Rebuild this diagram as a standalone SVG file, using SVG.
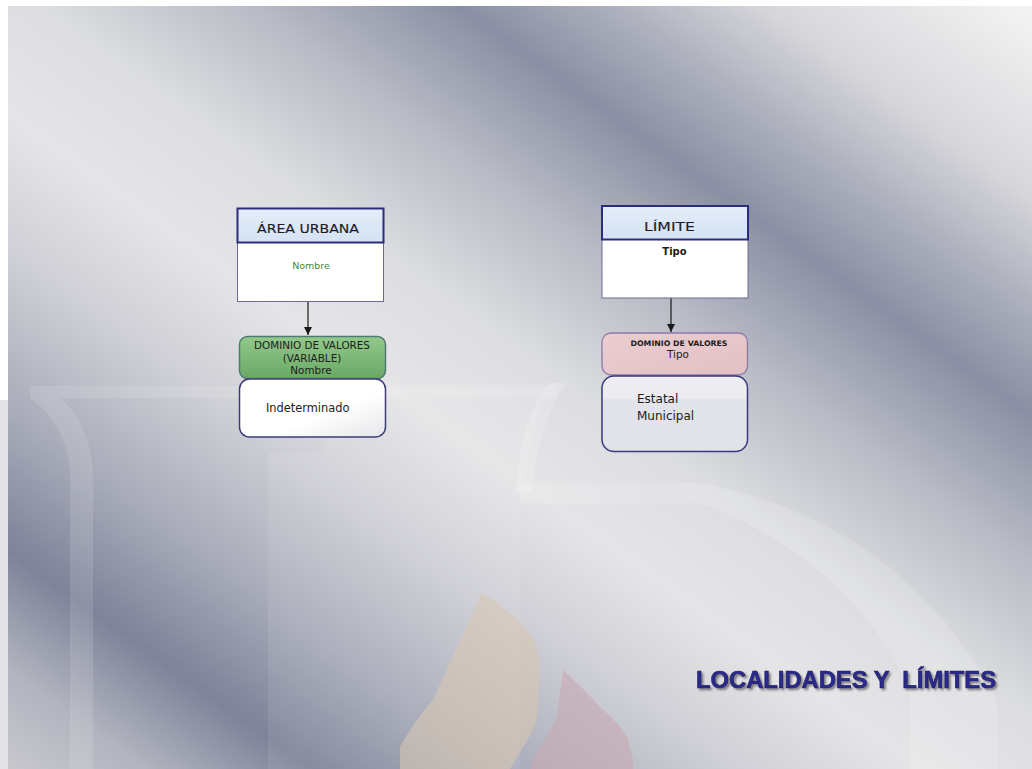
<svg xmlns="http://www.w3.org/2000/svg" width="1032" height="769" viewBox="0 0 1032 769">
  <defs>
    <!-- diagonal silver swoosh behind the slide -->
    <linearGradient id="bgSwoosh" gradientUnits="userSpaceOnUse" x1="0" y1="769" x2="708" y2="-220">
      <stop offset="0" stop-color="#c9c9ce"/>
      <stop offset="0.07" stop-color="#b2b4bf"/>
      <stop offset="0.15" stop-color="#7d8399"/>
      <stop offset="0.24" stop-color="#a7aab8"/>
      <stop offset="0.35" stop-color="#cfd0d6"/>
      <stop offset="0.44" stop-color="#e5e5e7"/>
      <stop offset="0.53" stop-color="#dcdde0"/>
      <stop offset="0.63" stop-color="#b9bbc5"/>
      <stop offset="0.73" stop-color="#8a90a4"/>
      <stop offset="0.80" stop-color="#acafbc"/>
      <stop offset="0.88" stop-color="#d8d8dc"/>
      <stop offset="1" stop-color="#f3f3f3"/>
    </linearGradient>
    <linearGradient id="hdrFill" x1="0" y1="0" x2="0" y2="1">
      <stop offset="0" stop-color="#e4edf9"/>
      <stop offset="1" stop-color="#d5e2f4"/>
    </linearGradient>
    <linearGradient id="greenFill" x1="0" y1="0" x2="0" y2="1">
      <stop offset="0" stop-color="#92c98b"/>
      <stop offset="1" stop-color="#6aa865"/>
    </linearGradient>
    <linearGradient id="pinkFill" x1="0" y1="0" x2="1" y2="1">
      <stop offset="0" stop-color="#ebcdd0"/>
      <stop offset="1" stop-color="#e2c0c4"/>
    </linearGradient>
    <linearGradient id="whiteFill" x1="0" y1="0" x2="1" y2="1">
      <stop offset="0" stop-color="#ffffff"/>
      <stop offset="0.6" stop-color="#ffffff"/>
      <stop offset="1" stop-color="#e6e6ea"/>
    </linearGradient>
    <linearGradient id="greyFill" x1="0" y1="0" x2="0" y2="1">
      <stop offset="0" stop-color="#eeeef3"/>
      <stop offset="0.3" stop-color="#ebebf1"/>
      <stop offset="0.31" stop-color="#e3e3ea"/>
      <stop offset="1" stop-color="#e2e2ea"/>
    </linearGradient>
    <marker id="arrow" viewBox="0 0 8 8" refX="8" refY="4" markerWidth="8" markerHeight="8" markerUnits="userSpaceOnUse" orient="auto">
      <path d="M0,0 L8,4 L0,8 Z" fill="#1a1a1a"/>
    </marker>
    <filter id="titleShadow" x="-5%" y="-30%" width="110%" height="160%">
      <feGaussianBlur in="SourceAlpha" stdDeviation="1"/>
      <feOffset dx="2" dy="2" result="off"/>
      <feComponentTransfer><feFuncA type="linear" slope="0.45"/></feComponentTransfer>
      <feMerge><feMergeNode/><feMergeNode in="SourceGraphic"/></feMerge>
    </filter>
  </defs>
  <style>
    .hdr { fill: url(#hdrFill); stroke: #2c2c7c; stroke-width: 2; }
    .body { fill: #ffffff; stroke: #6a6a98; stroke-width: 1; }
    .hdrTxt { font-family: "DejaVu Sans", Verdana, sans-serif; font-size: 12.5px; fill: #1c1c1c; stroke: #1c1c1c; stroke-width: 0.15; text-anchor: middle; }
    .t { font-family: "DejaVu Sans", Verdana, sans-serif; fill: #1c1c1c; }
    .mid { text-anchor: middle; }
    .conn { stroke: #1a1a1a; stroke-width: 1.2; fill: none; }
    .title { font-family: "Liberation Sans", Arial, sans-serif; font-weight: bold; font-size: 23.5px; fill: #2b2b8e; stroke: #1c1c5e; stroke-width: 0.6; }
  </style>

  <!-- page -->
  <rect x="0" y="0" width="1032" height="769" fill="#ffffff"/>
  <rect x="0" y="400" width="8" height="369" fill="#e3e3e7"/>
  <rect x="8" y="6" width="1024" height="763" fill="url(#bgSwoosh)"/>

  <!-- faint logo watermark -->
  <g id="watermark">
    <path d="M30,386 L556,386 L556,398 L60,398 Q88,420 93,470 L93,769 L70,769 L70,470 Q66,425 30,398 Z" fill="#ffffff" opacity="0.12"/>
    <path d="M324,383 L545,383 L520,493 L520,769 L268,769 L268,453 L324,453 Z" fill="#ffffff" opacity="0.08"/>
    <path d="M548,383 Q520,420 516,493 L532,493 Q536,430 566,383 Z" fill="#ffffff" opacity="0.18"/>
    <path d="M520,483 L700,483 Q900,520 997,700 L997,769 L910,769 L910,690 Q850,560 700,503 L520,503 Z" fill="#ffffff" opacity="0.15"/>
    <path d="M482,593 Q496,602 510,613 Q530,630 537,647 L540,670 L537,717 Q532,735 523,747 L510,769 L400,769 L400,747 Q415,720 433,700 Q460,640 482,593 Z" fill="#d7c6b2" opacity="0.6"/>
    <path d="M563,670 Q585,690 600,707 Q618,722 627,737 L633,760 L633,769 L530,769 L533,760 Q548,735 557,717 Z" fill="#c8a9b2" opacity="0.6"/>
  </g>

  <!-- connectors -->
  <g id="connectors">
    <line class="conn" x1="308" y1="302" x2="308" y2="335" marker-end="url(#arrow)"/>
    <line class="conn" x1="671" y1="298" x2="671" y2="332" marker-end="url(#arrow)"/>
  </g>

  <!-- entity: ÁREA URBANA -->
  <g id="area-urbana">
    <rect class="body" x="237.5" y="208.5" width="146" height="93"/>
    <rect class="hdr" x="237.5" y="208.5" width="146" height="34"/>
    <text class="hdrTxt" x="308" y="233" textLength="102" lengthAdjust="spacingAndGlyphs">ÁREA URBANA</text>
    <text class="t mid" x="311" y="269" font-size="9.5" style="fill:#3e8a3e">Nombre</text>
  </g>

  <!-- value domain: Nombre -->
  <g id="dominio-nombre">
    <rect x="239.5" y="336.5" width="146" height="42" rx="8" fill="url(#greenFill)" stroke="#4f7a72" stroke-width="1.5"/>
    <text class="t mid" x="312" y="349" font-size="10.4">DOMINIO DE VALORES</text>
    <text class="t mid" x="312" y="361.5" font-size="10.4">(VARIABLE)</text>
    <text class="t mid" x="311" y="374" font-size="10.4">Nombre</text>
  </g>
  <g id="valores-nombre">
    <rect x="239.5" y="379" width="146" height="58" rx="10" fill="url(#whiteFill)" stroke="#3c3c78" stroke-width="1.5"/>
    <text class="t" x="266" y="412" font-size="11.4">Indeterminado</text>
  </g>

  <!-- entity: LÍMITE -->
  <g id="limite">
    <rect class="body" x="602" y="206" width="146" height="92"/>
    <rect class="hdr" x="602" y="206" width="146" height="33.5"/>
    <text class="hdrTxt" x="669.5" y="231" textLength="51" lengthAdjust="spacingAndGlyphs">LÍMITE</text>
    <text class="t mid" x="674.5" y="255" font-size="10" font-weight="bold">Tipo</text>
  </g>

  <!-- value domain: Tipo -->
  <g id="dominio-tipo">
    <rect x="602" y="333" width="145.5" height="42" rx="9" fill="url(#pinkFill)" stroke="#8c7aa6" stroke-width="1.3"/>
    <text class="t mid" x="679" y="346" font-size="7.6" font-weight="bold" textLength="97" lengthAdjust="spacingAndGlyphs">DOMINIO DE VALORES</text>
    <text class="t mid" x="678" y="357.5" font-size="10.4">Tipo</text>
  </g>
  <g id="valores-tipo">
    <rect x="602" y="376" width="145.5" height="75.5" rx="12" fill="url(#greyFill)" stroke="#3a3a80" stroke-width="1.5"/>
    <text class="t" x="637" y="402.5" font-size="12">Estatal</text>
    <text class="t" x="637" y="420" font-size="12">Municipal</text>
  </g>

  <!-- slide title -->
  <text class="title" x="696" y="688" xml:space="preserve" textLength="300" lengthAdjust="spacingAndGlyphs" filter="url(#titleShadow)">LOCALIDADES Y  LÍMITES</text>
</svg>
